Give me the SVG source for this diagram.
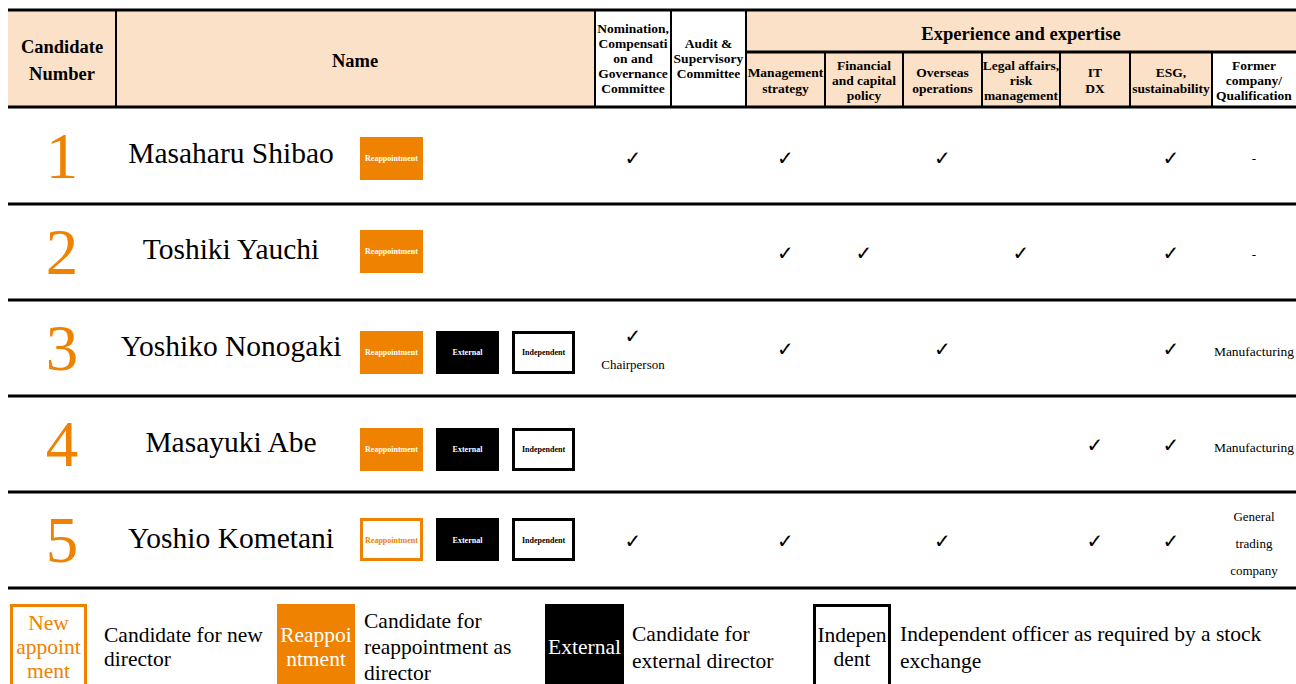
<svg xmlns="http://www.w3.org/2000/svg" width="1296" height="684" viewBox="0 0 1296 684" font-family="'Liberation Serif', serif">
<style>
text{font-family:'Liberation Serif',serif}
text.ck{font-family:'DejaVu Sans',sans-serif;font-size:20px;text-anchor:middle}
.hb{font-weight:bold;text-anchor:middle}
.h18{font-size:18.5px}
.h13{font-size:13.5px}
.num{font-size:65px;fill:#EF8200;text-anchor:middle}
.nm{font-size:29.5px;text-anchor:middle}
.sm{font-size:13px;text-anchor:middle}
.mf{font-size:13.5px;text-anchor:middle}
.bt{font-size:8px;font-weight:bold;text-anchor:middle}
.peach{fill:#FBE1C8}
.hl{stroke:#000;stroke-width:3}
.vl{stroke:#000;stroke-width:2}
.re{fill:#EF8200}
.ex{fill:#000}
.in{fill:#fff;stroke:#000;stroke-width:3}
.nw{fill:#fff;stroke:#EF8200;stroke-width:3}
.lg{font-size:21.5px}
.lgc{font-size:21.5px;text-anchor:middle}
.wt{fill:#fff}
.or{fill:#EF8200}
</style>
<rect width="1296" height="684" fill="#fff"/>
<g id="header">
<rect class="peach" x="8" y="10" width="587" height="97"/>
<rect class="peach" x="746" y="10" width="550" height="42"/>
<rect class="peach" x="746" y="52" width="466" height="55"/>
<line class="vl" x1="116" y1="10" x2="116" y2="107"/>
<line class="vl" x1="595" y1="10" x2="595" y2="107"/>
<line class="vl" x1="671" y1="10" x2="671" y2="107"/>
<line class="vl" x1="746" y1="10" x2="746" y2="107"/>
<line class="vl" x1="825" y1="52" x2="825" y2="107"/>
<line class="vl" x1="903" y1="52" x2="903" y2="107"/>
<line class="vl" x1="982" y1="52" x2="982" y2="107"/>
<line class="vl" x1="1060" y1="52" x2="1060" y2="107"/>
<line class="vl" x1="1130" y1="52" x2="1130" y2="107"/>
<line class="vl" x1="1212" y1="52" x2="1212" y2="107"/>
<line class="hl" x1="746" y1="52" x2="1296" y2="52"/>
<line class="hl" x1="8" y1="10" x2="1296" y2="10"/>
<line class="hl" x1="8" y1="107" x2="1296" y2="107"/>
<text class="hb h18" x="62" y="53">Candidate</text>
<text class="hb h18" x="62" y="80">Number</text>
<text class="hb h18" x="355" y="67">Name</text>
<text class="hb h13" x="633" y="33">Nomination,</text>
<text class="hb h13" x="633" y="48">Compensati</text>
<text class="hb h13" x="633" y="63">on and</text>
<text class="hb h13" x="633" y="78">Governance</text>
<text class="hb h13" x="633" y="93">Committee</text>
<text class="hb h13" x="708.5" y="48">Audit &amp;</text>
<text class="hb h13" x="708.5" y="63">Supervisory</text>
<text class="hb h13" x="708.5" y="78">Committee</text>
<text class="hb" x="1021" y="40" font-size="18.6">Experience and expertise</text>
<text class="hb h13" x="785.5" y="77">Management</text>
<text class="hb h13" x="785.5" y="93">strategy</text>
<text class="hb h13" x="864" y="70">Financial</text>
<text class="hb h13" x="864" y="85">and capital</text>
<text class="hb h13" x="864" y="100">policy</text>
<text class="hb h13" x="942.5" y="77">Overseas</text>
<text class="hb h13" x="942.5" y="93">operations</text>
<text class="hb h13" x="1021" y="70">Legal affairs,</text>
<text class="hb h13" x="1021" y="85">risk</text>
<text class="hb h13" x="1021" y="100">management</text>
<text class="hb h13" x="1095" y="77">IT</text>
<text class="hb h13" x="1095" y="93">DX</text>
<text class="hb h13" x="1171" y="77">ESG,</text>
<text class="hb h13" x="1171" y="93">sustainability</text>
<text class="hb h13" x="1254" y="70">Former</text>
<text class="hb h13" x="1254" y="85">company/</text>
<text class="hb h13" x="1254" y="100">Qualification</text>
</g>
<g id="row-lines">
<line class="hl" x1="8" y1="204" x2="1296" y2="204"/>
<line class="hl" x1="8" y1="300" x2="1296" y2="300"/>
<line class="hl" x1="8" y1="396" x2="1296" y2="396"/>
<line class="hl" x1="8" y1="492" x2="1296" y2="492"/>
<line class="hl" x1="8" y1="588" x2="1296" y2="588"/>
</g>
<g id="row1">
<text class="num" x="62" y="178">1</text>
<text class="nm" x="231" y="163">Masaharu Shibao</text>
<rect class="re" x="360" y="137" width="63" height="43"/>
<text class="bt wt" x="391.5" y="161">Reappointment</text>
<text class="ck" x="633" y="165">✓</text>
<text class="ck" x="785.5" y="165">✓</text>
<text class="ck" x="942.5" y="165">✓</text>
<text class="ck" x="1171" y="165">✓</text>
<text class="sm" x="1254" y="163" font-size="16">-</text>
</g>
<g id="row2">
<text class="num" x="62" y="274">2</text>
<text class="nm" x="231" y="259">Toshiki Yauchi</text>
<rect class="re" x="360" y="230" width="63" height="43"/>
<text class="bt wt" x="391.5" y="254">Reappointment</text>
<text class="ck" x="785.5" y="260">✓</text>
<text class="ck" x="864" y="260">✓</text>
<text class="ck" x="1021" y="260">✓</text>
<text class="ck" x="1171" y="260">✓</text>
<text class="sm" x="1254" y="259" font-size="16">-</text>
</g>
<g id="row3">
<text class="num" x="62" y="370">3</text>
<text class="nm" x="231" y="356">Yoshiko Nonogaki</text>
<rect class="re" x="360" y="331" width="63" height="43"/>
<text class="bt wt" x="391.5" y="355">Reappointment</text>
<rect class="ex" x="436" y="331" width="63" height="43"/>
<text class="bt wt" x="467.5" y="355">External</text>
<rect class="in" x="513.5" y="332.5" width="60" height="40"/>
<text class="bt" x="543.5" y="355">Independent</text>
<text class="ck" x="633" y="343">✓</text>
<text class="ck" x="785.5" y="356">✓</text>
<text class="ck" x="942.5" y="356">✓</text>
<text class="ck" x="1171" y="356">✓</text>
<text class="sm" x="633" y="369">Chairperson</text>
<text class="mf" x="1254" y="356">Manufacturing</text>
</g>
<g id="row4">
<text class="num" x="62" y="466">4</text>
<text class="nm" x="231" y="452">Masayuki Abe</text>
<rect class="re" x="360" y="428" width="63" height="43"/>
<text class="bt wt" x="391.5" y="452">Reappointment</text>
<rect class="ex" x="436" y="428" width="63" height="43"/>
<text class="bt wt" x="467.5" y="452">External</text>
<rect class="in" x="513.5" y="429.5" width="60" height="40"/>
<text class="bt" x="543.5" y="452">Independent</text>
<text class="ck" x="1095" y="452">✓</text>
<text class="ck" x="1171" y="452">✓</text>
<text class="mf" x="1254" y="452">Manufacturing</text>
</g>
<g id="row5">
<text class="num" x="62" y="562">5</text>
<text class="nm" x="231" y="548">Yoshio Kometani</text>
<rect class="nw" x="361.5" y="519.5" width="60" height="40"/>
<text class="bt or" x="391.5" y="543">Reappointment</text>
<rect class="ex" x="436" y="518" width="63" height="43"/>
<text class="bt wt" x="467.5" y="543">External</text>
<rect class="in" x="513.5" y="519.5" width="60" height="40"/>
<text class="bt" x="543.5" y="543">Independent</text>
<text class="ck" x="633" y="548">✓</text>
<text class="ck" x="785.5" y="548">✓</text>
<text class="ck" x="942.5" y="548">✓</text>
<text class="ck" x="1095" y="548">✓</text>
<text class="ck" x="1171" y="548">✓</text>
<text class="sm" x="1254" y="521">General</text>
<text class="sm" x="1254" y="548">trading</text>
<text class="sm" x="1254" y="575">company</text>
</g>
<g id="legend">
<g id="legend-new">
<rect class="nw" x="11.5" y="605.5" width="74" height="82"/>
<text class="lgc or" x="48.5" y="630">New</text>
<text class="lgc or" x="48.5" y="654">appoint</text>
<text class="lgc or" x="48.5" y="678">ment</text>
<text class="lg" x="104" y="642">Candidate for new</text>
<text class="lg" x="104" y="666">director</text>
</g>
<g id="legend-re">
<rect class="re" x="277" y="604" width="78" height="84"/>
<text class="lgc wt" x="316" y="642">Reappoi</text>
<text class="lgc wt" x="316" y="666">ntment</text>
<text class="lg" x="364" y="628">Candidate for</text>
<text class="lg" x="364" y="654">reappointment as</text>
<text class="lg" x="364" y="680">director</text>
</g>
<g id="legend-ex">
<rect class="ex" x="545" y="604" width="79" height="84"/>
<text class="lgc wt" x="584.5" y="654">External</text>
<text class="lg" x="632" y="641">Candidate for</text>
<text class="lg" x="632" y="668">external director</text>
</g>
<g id="legend-in">
<rect class="in" x="814.5" y="605.5" width="75" height="84"/>
<text class="lgc" x="852" y="642">Indepen</text>
<text class="lgc" x="852" y="666">dent</text>
<text class="lg" x="900" y="641">Independent officer as required by a stock</text>
<text class="lg" x="900" y="668">exchange</text>
</g>
</g>
</svg>
